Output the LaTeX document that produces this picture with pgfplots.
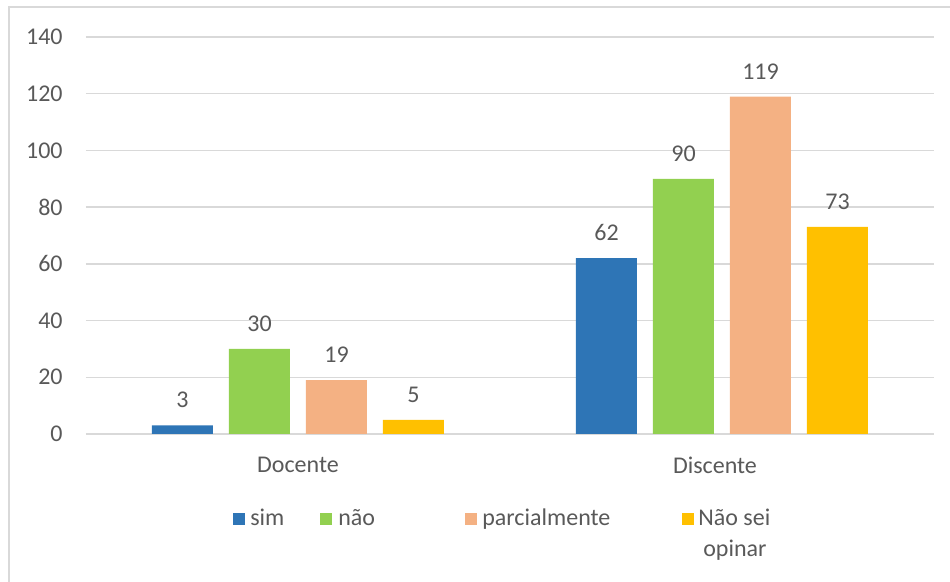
\documentclass[border=0pt]{standalone}
\usepackage{fontspec}
\setmainfont{Carlito}
\usepackage{pgfplots}
\pgfplotsset{compat=1.18}
\definecolor{simblue}{RGB}{46,117,182}
\definecolor{naogreen}{RGB}{146,208,80}
\definecolor{parcpeach}{RGB}{244,177,131}
\definecolor{nsyellow}{RGB}{255,192,0}
\definecolor{txtgray}{RGB}{89,89,89}
\definecolor{gridgray}{RGB}{217,217,217}

\begin{document}
\begin{tikzpicture}
\useasboundingbox (0,0) rectangle (475pt,291pt);
\draw[gridgray, line width=1pt] (4.5pt,0) -- (4.5pt,287.5pt) -- (476pt,287.5pt);
\begin{axis}[
  at={(43pt,74pt)}, anchor=south west,
  scale only axis, width=424pt, height=198.5pt,
  xmin=-0.5, xmax=1.5, ymin=0, ymax=140,
  ybar, bar width=30.5pt,
  xtick={0,1}, xticklabels={Docente,\hspace*{-7pt}Discente},
  ytick={0,20,...,140},
  ymajorgrids, grid style={gridgray, line width=0.75pt},
  axis line style={draw=none},
  major tick length=0pt,
  tick label style={font=\fontsize{12}{14}\selectfont, text=txtgray},
  /pgf/number format/assume math mode=true,
  yticklabel style={inner sep=0pt, xshift=-11.5pt},
  xticklabel style={inner sep=0pt, yshift=-11.5pt},
  nodes near coords,
  every node near coord/.append style={font=\fontsize{12}{14}\selectfont, text=txtgray, inner sep=0pt, yshift=8.5pt},
  legend columns=4,
  legend cell align=left,
  legend image code/.code={\fill[#1] (0pt,-3pt) rectangle (6pt,3pt);},
  legend style={at={(0.1733,-0.2141)}, anchor=west, draw=none, fill=none,
    inner sep=0pt, column sep=0pt,
    nodes={inner sep=0pt, text=txtgray, font=\fontsize{12}{14}\selectfont}},
]
\addplot[fill=simblue, draw=none, bar shift=-57.75pt] coordinates {(0,3) (1,62)};
\addlegendentry{\makebox[37.5pt][l]{\hspace*{2.5pt}sim}}
\addplot[fill=naogreen, draw=none, bar shift=-19.25pt] coordinates {(0,30) (1,90)};
\addlegendentry{\makebox[66.5pt][l]{\hspace*{3pt}não}}
\addplot[fill=parcpeach, draw=none, bar shift=19.25pt] coordinates {(0,19) (1,119)};
\addlegendentry{\makebox[102.5pt][l]{\hspace*{2.5pt}parcialmente}}
\addplot[fill=nsyellow, draw=none, bar shift=57.75pt] coordinates {(0,5) (1,73)};
\addlegendentry{\hspace*{2pt}\makebox[0pt][l]{\smash{\raisebox{-15.5pt}{\hspace*{2.5pt}opinar}}}Não sei}
\end{axis}
\end{tikzpicture}
\end{document}
